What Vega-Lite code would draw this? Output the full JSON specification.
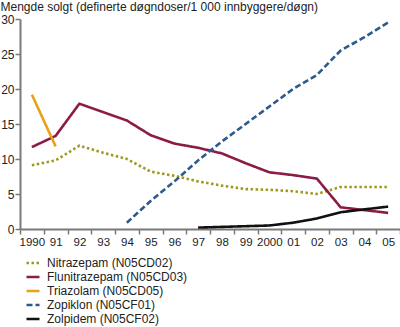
{
  "$schema": "https://vega.github.io/schema/vega-lite/v6.json",
  "width": 380,
  "height": 210,
  "autosize": {"type": "none"},
  "padding": {"left": 20, "top": 19, "right": 0, "bottom": 98},
  "config": {
    "view": {"stroke": null},
    "font": "Liberation Sans",
    "axis": {"domainColor": "#7a7a7a", "tickColor": "#7a7a7a", "domainWidth": 2, "tickWidth": 1.5, "labelColor": "#222", "labelFont": "Liberation Sans", "grid": false}
  },
  "data": {
    "values": [
      {"year": "1990", "series": "Nitrazepam (N05CD02)", "value": 9.1},
      {"year": "1991", "series": "Nitrazepam (N05CD02)", "value": 9.8},
      {"year": "1992", "series": "Nitrazepam (N05CD02)", "value": 11.9},
      {"year": "1993", "series": "Nitrazepam (N05CD02)", "value": 10.9},
      {"year": "1994", "series": "Nitrazepam (N05CD02)", "value": 10.0},
      {"year": "1995", "series": "Nitrazepam (N05CD02)", "value": 8.2},
      {"year": "1996", "series": "Nitrazepam (N05CD02)", "value": 7.6},
      {"year": "1997", "series": "Nitrazepam (N05CD02)", "value": 6.8},
      {"year": "1998", "series": "Nitrazepam (N05CD02)", "value": 6.2},
      {"year": "1999", "series": "Nitrazepam (N05CD02)", "value": 5.7},
      {"year": "2000", "series": "Nitrazepam (N05CD02)", "value": 5.6},
      {"year": "2001", "series": "Nitrazepam (N05CD02)", "value": 5.4},
      {"year": "2002", "series": "Nitrazepam (N05CD02)", "value": 5.0},
      {"year": "2003", "series": "Nitrazepam (N05CD02)", "value": 6.0},
      {"year": "2004", "series": "Nitrazepam (N05CD02)", "value": 6.0},
      {"year": "2005", "series": "Nitrazepam (N05CD02)", "value": 6.0},
      {"year": "1990", "series": "Flunitrazepam (N05CD03)", "value": 11.7},
      {"year": "1991", "series": "Flunitrazepam (N05CD03)", "value": 13.3},
      {"year": "1992", "series": "Flunitrazepam (N05CD03)", "value": 17.9},
      {"year": "1993", "series": "Flunitrazepam (N05CD03)", "value": 16.7},
      {"year": "1994", "series": "Flunitrazepam (N05CD03)", "value": 15.5},
      {"year": "1995", "series": "Flunitrazepam (N05CD03)", "value": 13.4},
      {"year": "1996", "series": "Flunitrazepam (N05CD03)", "value": 12.2},
      {"year": "1997", "series": "Flunitrazepam (N05CD03)", "value": 11.6},
      {"year": "1998", "series": "Flunitrazepam (N05CD03)", "value": 10.8},
      {"year": "1999", "series": "Flunitrazepam (N05CD03)", "value": 9.4},
      {"year": "2000", "series": "Flunitrazepam (N05CD03)", "value": 8.1},
      {"year": "2001", "series": "Flunitrazepam (N05CD03)", "value": 7.7},
      {"year": "2002", "series": "Flunitrazepam (N05CD03)", "value": 7.2},
      {"year": "2003", "series": "Flunitrazepam (N05CD03)", "value": 3.1},
      {"year": "2004", "series": "Flunitrazepam (N05CD03)", "value": 2.7},
      {"year": "2005", "series": "Flunitrazepam (N05CD03)", "value": 2.3},
      {"year": "1990", "series": "Triazolam (N05CD05)", "value": 19.2},
      {"year": "1991", "series": "Triazolam (N05CD05)", "value": 11.8},
      {"year": "1994", "series": "Zopiklon (N05CF01)", "value": 0.9},
      {"year": "1995", "series": "Zopiklon (N05CF01)", "value": 4.0},
      {"year": "1996", "series": "Zopiklon (N05CF01)", "value": 6.8},
      {"year": "1997", "series": "Zopiklon (N05CF01)", "value": 9.8},
      {"year": "1998", "series": "Zopiklon (N05CF01)", "value": 12.5},
      {"year": "1999", "series": "Zopiklon (N05CF01)", "value": 15.0},
      {"year": "2000", "series": "Zopiklon (N05CF01)", "value": 17.5},
      {"year": "2001", "series": "Zopiklon (N05CF01)", "value": 20.0},
      {"year": "2002", "series": "Zopiklon (N05CF01)", "value": 22.0},
      {"year": "2003", "series": "Zopiklon (N05CF01)", "value": 25.5},
      {"year": "2004", "series": "Zopiklon (N05CF01)", "value": 27.4},
      {"year": "2005", "series": "Zopiklon (N05CF01)", "value": 29.5},
      {"year": "1997", "series": "Zolpidem (N05CF02)", "value": 0.2},
      {"year": "1998", "series": "Zolpidem (N05CF02)", "value": 0.3},
      {"year": "1999", "series": "Zolpidem (N05CF02)", "value": 0.4},
      {"year": "2000", "series": "Zolpidem (N05CF02)", "value": 0.5},
      {"year": "2001", "series": "Zolpidem (N05CF02)", "value": 0.9},
      {"year": "2002", "series": "Zolpidem (N05CF02)", "value": 1.5},
      {"year": "2003", "series": "Zolpidem (N05CF02)", "value": 2.4},
      {"year": "2004", "series": "Zolpidem (N05CF02)", "value": 2.8},
      {"year": "2005", "series": "Zolpidem (N05CF02)", "value": 3.2}
    ]
  },
  "mark": {"type": "line", "strokeWidth": 2.6},
  "encoding": {
    "x": {
      "field": "year", "type": "ordinal", "bandPosition": 0.5,
      "scale": {"type": "band", "paddingInner": 0, "paddingOuter": 0},
      "axis": {
        "title": null, "labelAngle": 0, "tickBand": "extent", "tickSize": 5, "labelPadding": 2,
        "labelFontSize": 11.5,
        "labelExpr": "!isValid(datum.value) ? '' : (datum.value == '1990' || datum.value == '2000' ? datum.value : substring(datum.value, 2, 4))"
      }
    },
    "y": {
      "field": "value", "type": "quantitative",
      "scale": {"domain": [0, 30], "nice": false},
      "axis": {
        "values": [0, 5, 10, 15, 20, 25, 30], "tickSize": 5, "labelPadding": 1, "labelFontSize": 12,
        "title": "Mengde solgt (definerte døgndoser/1 000 innbyggere/døgn)",
        "titleAngle": 0, "titleAlign": "left", "titleBaseline": "alphabetic",
        "titleX": -20, "titleY": -9, "titleFontWeight": "normal", "titleFontSize": 12, "titleColor": "#222"
      }
    },
    "color": {
      "field": "series", "type": "nominal",
      "scale": {
        "domain": ["Nitrazepam (N05CD02)", "Flunitrazepam (N05CD03)", "Triazolam (N05CD05)", "Zopiklon (N05CF01)", "Zolpidem (N05CF02)"],
        "range": ["#9c9a1c", "#8b1c48", "#e8a21a", "#2d5a8c", "#111111"]
      },
      "legend": {
        "title": null, "orient": "none", "legendX": 5, "legendY": 236, "direction": "vertical",
        "symbolType": "stroke", "symbolSize": 169, "symbolStrokeWidth": 2.6,
        "labelFontSize": 12, "labelColor": "#222", "rowPadding": -1, "labelOffset": 6
      }
    },
    "strokeDash": {
      "field": "series", "type": "nominal",
      "scale": {
        "domain": ["Nitrazepam (N05CD02)", "Flunitrazepam (N05CD03)", "Triazolam (N05CD05)", "Zopiklon (N05CF01)", "Zolpidem (N05CF02)"],
        "range": [[2.5, 2.5], [1, 0], [1, 0], [6, 3], [1, 0]]
      },
      "legend": null
    }
  }
}
